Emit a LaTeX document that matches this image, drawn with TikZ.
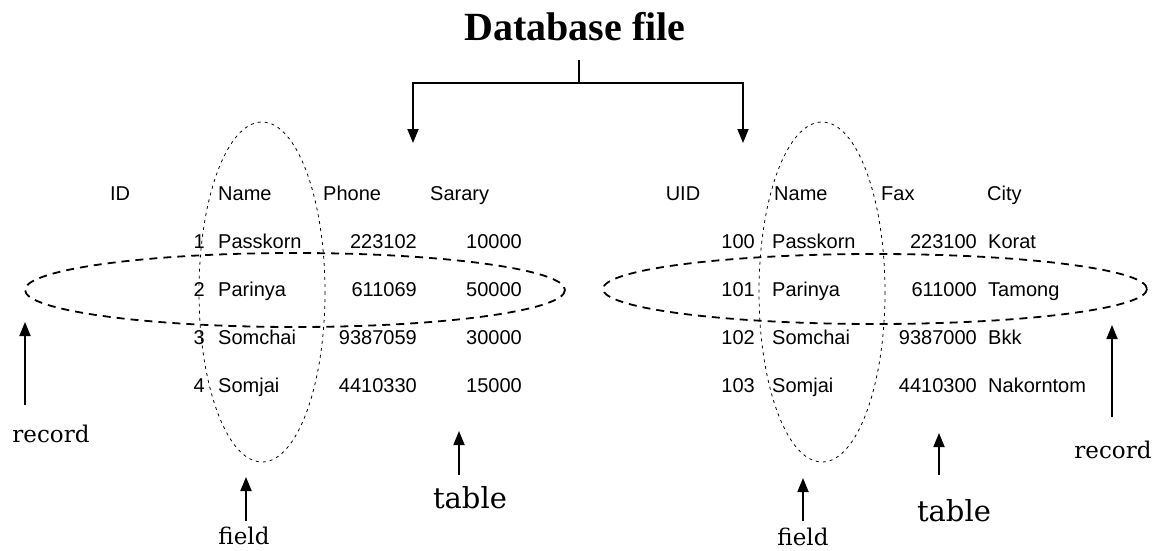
\documentclass[tikz,border=0pt]{standalone}
\usepackage{fontspec}
\setmainfont{Liberation Serif}
\newfontfamily\cellfont{Liberation Sans}
\newfontfamily\notefont{DejaVu Serif}
\usetikzlibrary{arrows.meta}

\tikzset{
  cell/.style={font=\cellfont\fontsize{20}{22}\selectfont, inner sep=0pt},
  note/.style={font=\notefont\fontsize{23}{26}\selectfont, inner sep=0pt},
  tablabel/.style={font=\notefont\fontsize{29}{32}\selectfont, inner sep=0pt},
  pointer/.style={line width=1.8pt, -{Triangle[length=14pt,width=11pt]}},
  recordring/.style={line width=1.8pt, dash pattern=on 8pt off 6pt},
  fieldring/.style={line width=0.8pt, dash pattern=on 3pt off 4pt},
}

\begin{document}
\begin{tikzpicture}[x=1pt,y=-1pt]
  \useasboundingbox (0,0) rectangle (1154,551);

  % title and the two branches
  \node[font=\bfseries\fontsize{40}{44}\selectfont, inner sep=0pt, outer ysep=19pt] (dbfile) at (575,27) {Database file};
  \coordinate (fork) at (579,83);
  \coordinate (tabL) at (413,143);
  \coordinate (tabR) at (743,143);
  \draw[line width=1.5pt] (dbfile.south -| fork) -- (fork);
  \draw[pointer] (fork) -| (tabL);
  \draw[pointer] (fork) -| (tabR);

  % rings round a record and a field
  \draw[recordring] (295,290) ellipse [x radius=270, y radius=37];
  \draw[recordring] (875,289) ellipse [x radius=272, y radius=35];
  \draw[fieldring] (262,292) ellipse [x radius=63, y radius=170];
  \draw[fieldring] (822,292) ellipse [x radius=63, y radius=170];

  % left table (y values are baselines)
  \node[cell, anchor=base] (idL) at (120,200) {ID};
  \node[cell, anchor=base west] (nameL) at (218,200) {Name};
  \node[cell, anchor=base west] (phoneL) at (323,200) {Phone};
  \node[cell, anchor=base west] (salL) at (430,200) {Sarary};
  \foreach \id/\nm/\ph/\sal [count=\r] in {1/Passkorn/223102/10000,
      2/Parinya/611069/50000, 3/Somchai/9387059/30000, 4/Somjai/4410330/15000} {
    \node[cell, anchor=base east] (idL\r) at (205,{200+48*\r}) {\id};
    \node[cell, anchor=base west] (nameL\r) at (218,{200+48*\r}) {\nm};
    \node[cell, anchor=base east] (phoneL\r) at (417,{200+48*\r}) {\ph};
    \node[cell, anchor=base east] (salL\r) at (522,{200+48*\r}) {\sal};
  }

  % right table
  \node[cell, anchor=base] (idR) at (683,200) {UID};
  \node[cell, anchor=base west] (nameR) at (774,200) {Name};
  \node[cell, anchor=base west] (faxR) at (881,200) {Fax};
  \node[cell, anchor=base west] (cityR) at (987,200) {City};
  \foreach \id/\nm/\fx/\ct [count=\r] in {100/Passkorn/223100/Korat,
      101/Parinya/611000/Tamong, 102/Somchai/9387000/Bkk, 103/Somjai/4410300/Nakorntom} {
    \node[cell, anchor=base east] (idR\r) at (755,{200+48*\r}) {\id};
    \node[cell, anchor=base west] (nameR\r) at (772,{200+48*\r}) {\nm};
    \node[cell, anchor=base east] (faxR\r) at (977,{200+48*\r}) {\fx};
    \node[cell, anchor=base west] (cityR\r) at (988,{200+48*\r}) {\ct};
  }

  % labels with their pointers
  \node[note] (recL) at (51,434) {record};
  \node[note] (recR) at (1113,450) {record};
  \node[note] (fieldL) at (244,536) {field};
  \node[note] (fieldR) at (803,537) {field};
  \node[tablabel] (tableL) at (470,498) {table};
  \node[tablabel] (tableR) at (954,511) {table};
  \coordinate (recLtip) at (25,322);   \coordinate (recLfoot) at (25,405);
  \coordinate (recRtip) at (1112,325); \coordinate (recRfoot) at (1112,417);
  \coordinate (fieldLtip) at (246,477); \coordinate (fieldLfoot) at (246,521);
  \coordinate (fieldRtip) at (803,478); \coordinate (fieldRfoot) at (803,521);
  \coordinate (tableLtip) at (459,431); \coordinate (tableLfoot) at (459,475);
  \coordinate (tableRtip) at (939,433); \coordinate (tableRfoot) at (939,475);
  \foreach \p in {recL,recR,fieldL,fieldR,tableL,tableR}
    \draw[pointer] (\p foot) -- (\p tip);
\end{tikzpicture}
\end{document}
